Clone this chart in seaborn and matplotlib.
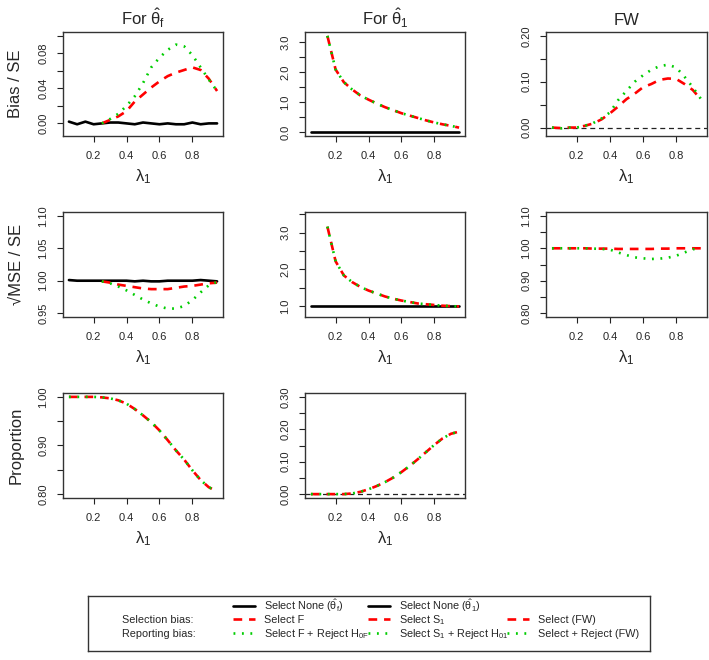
import numpy as np
import matplotlib.pyplot as plt
import seaborn as sns
from matplotlib.lines import Line2D
from matplotlib.legend import Legend

sns.set_style('ticks')
plt.rcParams['font.family'] = ['Liberation Sans', 'DejaVu Sans']
plt.rcParams['mathtext.fontset'] = 'custom'
plt.rcParams['mathtext.rm'] = 'Liberation Sans'
plt.rcParams['mathtext.it'] = 'Liberation Sans'
plt.rcParams['mathtext.bf'] = 'Liberation Sans:bold'

nan = np.nan

# lambda_1 grid
lam = [0.05, 0.10, 0.15, 0.20, 0.25, 0.30, 0.35, 0.40, 0.45, 0.50,
       0.55, 0.60, 0.65, 0.70, 0.75, 0.80, 0.85, 0.90, 0.95]

# Bias / SE
none_f_bias = [0.002, -0.001, 0.002, -0.001, 0.000, 0.001, 0.001, 0.000, -0.001, 0.001,
               0.000, -0.001, 0.000, -0.001, -0.001, 0.001, -0.001, 0.000, 0.000]
selF_bias = [nan, nan, nan, nan, 0.000, 0.004, 0.008, 0.014, 0.025, 0.033,
             0.041, 0.048, 0.054, 0.058, 0.061, 0.064, 0.061, 0.051, 0.037]
rejF_bias = [nan, nan, nan, nan, 0.000, 0.005, 0.011, 0.020, 0.031, 0.046,
             0.064, 0.075, 0.084, 0.090, 0.088, 0.078, 0.064, 0.050, 0.037]

none_1_bias = [0.0] * 19
sel1_bias = [nan, nan, 3.20, 2.08, 1.66, 1.42, 1.22, 1.08, 0.95, 0.83,
             0.73, 0.63, 0.55, 0.47, 0.39, 0.32, 0.26, 0.21, 0.15]
rej1_bias = [nan, nan, 3.20, 2.08, 1.66, 1.42, 1.22, 1.08, 0.95, 0.83,
             0.73, 0.63, 0.55, 0.47, 0.39, 0.32, 0.26, 0.21, 0.15]

selFW_bias = [0.000, -0.001, 0.000, 0.000, 0.004, 0.009, 0.018, 0.031, 0.046, 0.062,
              0.074, 0.088, 0.095, 0.104, 0.107, 0.106, 0.095, 0.082, 0.061]
rejFW_bias = [0.000, -0.002, 0.000, 0.000, 0.004, 0.010, 0.020, 0.033, 0.060, 0.080,
              0.100, 0.114, 0.126, 0.134, 0.137, 0.131, 0.111, 0.088, 0.062]

# sqrt(MSE) / SE
none_f_mse = [1.001, 1.000, 1.000, 1.000, 1.000, 1.000, 1.000, 1.000, 0.999, 1.000,
              0.999, 0.999, 1.000, 1.000, 1.000, 1.000, 1.001, 1.000, 0.999]
selF_mse = [nan, nan, nan, nan, 0.999, 0.997, 0.994, 0.992, 0.990, 0.988,
            0.987, 0.987, 0.987, 0.989, 0.991, 0.992, 0.994, 0.996, 0.997]
rejF_mse = [nan, nan, nan, nan, 0.999, 0.996, 0.991, 0.985, 0.978, 0.971,
            0.965, 0.960, 0.957, 0.957, 0.961, 0.970, 0.982, 0.993, 0.998]

none_1_mse = [1.0] * 19
sel1_mse = [nan, nan, 3.16, 2.22, 1.84, 1.66, 1.53, 1.43, 1.35, 1.27,
            1.21, 1.16, 1.12, 1.08, 1.06, 1.04, 1.02, 1.01, 1.00]
rej1_mse = [nan, nan, 3.16, 2.22, 1.84, 1.66, 1.53, 1.43, 1.35, 1.27,
            1.21, 1.16, 1.12, 1.08, 1.06, 1.04, 1.02, 1.01, 1.00]

selFW_mse = [1.000, 1.000, 1.000, 1.000, 1.000, 0.999, 0.999, 0.999, 0.998, 0.998,
             0.998, 0.998, 0.998, 0.999, 0.999, 1.000, 1.000, 1.000, 1.000]
rejFW_mse = [1.000, 1.000, 1.000, 1.000, 1.000, 0.999, 0.998, 0.996, 0.987, 0.979,
             0.972, 0.969, 0.967, 0.968, 0.971, 0.977, 0.987, 0.997, 1.000]

# Proportion
selF_prop = [1.000, 1.000, 1.000, 1.000, 0.999, 0.997, 0.993, 0.986, 0.975, 0.962,
             0.948, 0.931, 0.911, 0.890, 0.871, 0.849, 0.829, 0.814, 0.806]
rejF_prop = [1.000, 1.000, 1.000, 1.000, 0.999, 0.997, 0.993, 0.986, 0.975, 0.962,
             0.948, 0.931, 0.911, 0.890, 0.871, 0.849, 0.829, 0.814, 0.806]
sel1_prop = [0.000, 0.000, 0.000, 0.000, 0.000, 0.002, 0.007, 0.015, 0.025, 0.037,
             0.051, 0.068, 0.087, 0.108, 0.130, 0.152, 0.172, 0.186, 0.193]
rej1_prop = [0.000, 0.000, 0.000, 0.000, 0.000, 0.002, 0.007, 0.015, 0.025, 0.037,
             0.051, 0.068, 0.087, 0.108, 0.130, 0.152, 0.172, 0.186, 0.193]

col_titles = [r'For $\hat{\theta}_f$', r'For $\hat{\theta}_1$', 'FW']
row_labels = ['Bias / SE', '\u221aMSE / SE', 'Proportion']
x_ticks = [0.2, 0.4, 0.6, 0.8]

legend_rows = ['', 'Selection bias:', 'Reporting bias:']
legend_cols = [
    [r'Select None ($\hat{\theta}_f$)', 'Select F', r'Select F + Reject $\mathrm{H}_{0F}$'],
    [r'Select None ($\hat{\theta}_1$)', r'Select $\mathrm{S}_1$',
     r'Select $\mathrm{S}_1$ + Reject $\mathrm{H}_{01}$'],
    ['', 'Select (FW)', 'Select + Reject (FW)'],
]

# styles
RED = '#FF0000'
GREEN = '#00CD00'
LW = 1.9
DASH = (0, (3.3, 2.6))
DOT = (0, (0.7, 2.5))
FS_LEG = 7.8

W, H = 709, 660
fig = plt.figure(figsize=(7.09, 6.6), dpi=100)

col_px = [(63, 223), (305, 465), (546, 707)]
row_px = [(32, 136), (212, 317), (393, 498)]


def r_lim(lo, hi):
    d = (hi - lo) * 0.04
    return lo - d, hi + d


# (row, col, none, sel, rej, ylim, tick range, step, label every, fmt, zero line)
panels = [
    (0, 0, none_f_bias, selF_bias, rejF_bias, (-0.01, 0.10), (0.0, 0.10), 0.02, 2, '{:.2f}', False),
    (0, 1, none_1_bias, sel1_bias, rej1_bias, (0.0, 3.2), (0.0, 3.0), 0.5, 2, '{:.1f}', False),
    (0, 2, None, selFW_bias, rejFW_bias, (-0.01, 0.20), (0.0, 0.20), 0.05, 2, '{:.2f}', True),
    (1, 0, none_f_mse, selF_mse, rejF_mse, (0.95, 1.10), (0.95, 1.10), 0.05, 1, '{:.2f}', False),
    (1, 1, none_1_mse, sel1_mse, rej1_mse, (0.82, 3.45), (1.0, 3.5), 0.5, 2, '{:.1f}', False),
    (1, 2, None, selFW_mse, rejFW_mse, (0.80, 1.10), (0.80, 1.10), 0.05, 2, '{:.2f}', False),
    (2, 0, None, selF_prop, rejF_prop, (0.80, 1.00), (0.80, 1.00), 0.05, 2, '{:.2f}', False),
    (2, 1, None, sel1_prop, rej1_prop, (0.0, 0.30), (0.0, 0.30), 0.05, 2, '{:.2f}', True),
]

for r, c, none, sel, rej, ylim, trange, step, every, fmt, zline in panels:
    l, rr = col_px[c]
    t, b = row_px[r]
    ax = fig.add_axes([l / W, 1 - b / H, (rr - l) / W, (b - t) / H])
    if zline:
        ax.axhline(0, color='#222222', lw=0.9, ls=(0, (4, 3)))
    if none is not None:
        sns.lineplot(x=lam, y=none, ax=ax, color='black', lw=LW, legend=False)
    sns.lineplot(x=lam, y=sel, ax=ax, color=RED, lw=LW, ls=DASH, legend=False)
    sns.lineplot(x=lam, y=rej, ax=ax, color=GREEN, lw=LW, ls=DOT, legend=False)

    ax.set_xlim(r_lim(0.05, 0.95))
    ax.set_ylim(r_lim(*ylim))
    ticks = np.arange(trange[0], trange[1] + step / 2, step)
    labels = [fmt.format(v) if i % every == 0 else '' for i, v in enumerate(ticks)]
    ax.set_yticks(ticks, labels, rotation=90, va='center', fontsize=8)
    ax.set_xticks(x_ticks, [f'{v:.1f}' for v in x_ticks], fontsize=8)
    ax.tick_params(direction='out', length=4.5, width=0.8, pad=6, color='#222222')
    for s in ax.spines.values():
        s.set_visible(True)
        s.set_color('#333333')
        s.set_linewidth(1.0)
    ax.set_xlabel(r'$\lambda_1$', fontsize=12, labelpad=5)
    ax.set_ylabel(row_labels[r] if c == 0 else '', fontsize=12, labelpad=11)
    if r == 0:
        ax.set_title(col_titles[c], fontsize=12, pad=5)

# legend frame
box_l, box_r, box_t, box_b = 88, 650, 596, 651
lax = fig.add_axes([box_l / W, 1 - box_b / H, (box_r - box_l) / W, (box_b - box_t) / H])
lax.set_xticks([])
lax.set_yticks([])
for s in lax.spines.values():
    s.set_color('#333333')
    s.set_linewidth(1.0)

h_none = Line2D([0], [0], color='black', lw=LW)
h_sel = Line2D([0], [0], color=RED, lw=LW, ls=DASH)
h_rej = Line2D([0], [0], color=GREEN, lw=LW, ls=DOT)
h_blank = Line2D([0], [0], color='none', lw=LW)

# legend keys: one column of keys per group, rows share equal height
key_x = [233, 368, 507]
text_x = [264, 399, 538]
key_sets = [[h_none, h_sel, h_rej], [h_none, h_sel, h_rej], [h_blank, h_sel, h_rej]]
legs = []
for xpx, hs in zip(key_x, key_sets):
    leg = Legend(lax, hs, ['', '', ''], loc='center left',
                 bbox_to_anchor=(xpx / W, 1 - 620 / H), bbox_transform=fig.transFigure,
                 frameon=False, borderpad=0, borderaxespad=0, handlelength=2.0,
                 handletextpad=0.8, labelspacing=0.33, fontsize=FS_LEG)
    lax.add_artist(leg)
    legs.append(leg)

fig.canvas.draw()
renderer = fig.canvas.get_renderer()
inv = fig.transFigure.inverted()
em = FS_LEG * fig.dpi / 72
row_y = []
for h in legs[0].legend_handles:
    bb = h.get_window_extent(renderer)
    row_y.append(inv.transform((0, (bb.y0 + bb.y1) / 2 - 0.36 * em))[1])

for k, txt in enumerate(legend_rows):
    if txt:
        fig.text(122 / W, row_y[k], txt, ha='left', va='baseline', fontsize=FS_LEG)
for xpx, labs in zip(text_x, legend_cols):
    for k, txt in enumerate(labs):
        if txt:
            fig.text(xpx / W, row_y[k], txt, ha='left', va='baseline', fontsize=FS_LEG)

fig.savefig('out.png', dpi=100)
